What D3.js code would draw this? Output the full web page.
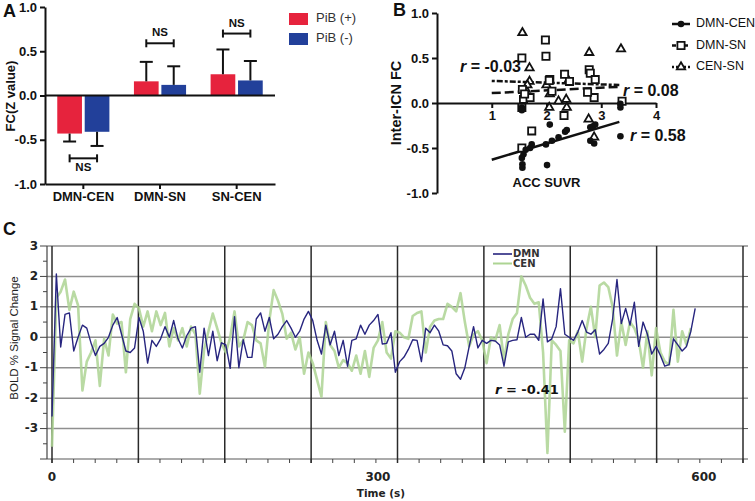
<!DOCTYPE html>
<html><head><meta charset="utf-8">
<script src="https://cdn.jsdelivr.net/npm/d3@7"></script>
<style>body{margin:0;background:#fff} svg{display:block}</style>
</head><body><svg id="c" width="755" height="501"></svg>
<script>
// ---------- Panel A data ----------
const catsA = ["DMN-CEN", "DMN-SN", "SN-CEN"];
const groupsA = ["PiB (+)", "PiB (-)"];
const pibPos = [-0.43, 0.16, 0.24];
const pibNeg = [-0.41, 0.12, 0.17];
const errPos = [0.09, 0.22, 0.28];
const errNeg = [0.16, 0.21, 0.22];
const nsLevels = [-0.71, 0.59, 0.70];
const ticksA = [-1.0, -0.5, 0.0, 0.5, 1.0];

// ---------- Panel B data ----------
const dmnCenX = [1.55,1.55,1.55,1.56,1.56,1.58,1.62,1.70,1.73,1.99,2.01,2.06,2.10,2.22,2.34,2.37,2.80,2.85,2.89,2.80,2.87,3.35,3.35,3.35];
const dmnCenY = [-0.05,-0.08,-0.61,-0.68,-0.72,-0.57,-0.52,-0.50,-0.46,-0.46,-0.69,-0.24,-0.42,-0.38,-0.32,-0.30,-0.27,-0.26,-0.24,-0.42,-0.45,-0.37,-0.01,-0.05];
const dmnSnX = [1.55,1.56,1.58,1.55,1.73,1.55,1.98,1.99,2.06,2.33,2.32,2.42,2.78,2.80,2.89,2.87,3.38,1.70,2.10,1.60,2.75,2.05];
const dmnSnY = [0.50,0.15,0.04,-0.05,-0.31,-0.50,0.70,0.52,0.26,0.32,-0.14,0.24,0.37,0.33,0.26,0.06,0.02,0.06,0.13,0.10,0.12,0.25];
const cenSnX = [1.56,1.69,1.69,1.62,2.06,2.05,2.22,2.36,2.37,2.78,2.77,2.87,3.36,1.65,2.40,2.00];
const cenSnY = [0.78,0.39,0.24,0.15,0.10,-0.05,0.02,0.04,-0.05,0.56,-0.18,-0.38,0.60,0.20,0.25,0.20];
const fitX = [1, 3.33];
const dmnCenFit = [-0.63, -0.21];
const dmnSnFit = [0.11, 0.18];
const cenSnFit = [0.245, 0.20];
const ticksBX = [1, 2, 3, 4];
const ticksBY = [-1.0, -0.5, 0.0, 0.5, 1.0];

// ---------- Panel C data ----------
const TR = 4;
const dmnBold = [-2.6,2.08,-0.32,0.75,0.8,-0.45,0.0,0.4,0.3,-0.2,-0.6,-0.3,-0.2,0.0,0.4,0.65,0.1,-0.45,-0.5,-0.35,
0.65,0.2,-0.85,-0.1,-0.3,-0.05,0.35,0.0,0.55,-0.05,-0.35,0.05,0.3,0.35,-1.15,0.3,-0.6,0.2,-0.77,-0.18,
-0.25,-1.02,0.68,-1.0,-0.08,-0.66,-0.66,0.6,0.8,0.2,0.65,-0.05,0.1,0.35,0.55,0.3,0.0,0.2,0.6,0.85,
0.55,-0.1,-0.55,0.4,-0.25,0.2,-0.6,-0.1,-0.95,-0.1,-0.05,0.4,0.1,0.4,0.55,0.75,-0.22,-0.2,0.15,-1.15,
-0.8,-0.65,-0.4,-0.08,-0.1,-0.8,0.3,0.15,0.4,0.2,-0.25,-0.28,-0.45,-1.2,-1.38,-1.0,-0.3,0.35,-0.35,-0.1,
-0.2,-0.1,-0.12,-0.25,-0.95,-0.15,-0.1,-0.08,0.65,0.0,0.1,0.1,-0.1,1.26,-0.15,-0.05,0.35,1.6,0.1,0.0,
-0.1,0.17,0.55,0.17,0.1,0.25,-0.55,-0.4,-0.2,0.6,1.9,0.45,0.95,0.4,1.15,-0.3,0.5,0.1,-0.55,-0.3,
-0.6,-0.95,-0.9,-0.05,-0.25,-0.45,-0.3,0.2,0.95];
const cenBold = [-3.6,1.3,1.5,1.9,0.9,1.5,1.05,-1.75,-0.8,-0.5,-0.1,-1.6,-0.05,-0.6,0.75,0.45,0.5,-1.15,0.6,1.1,
0.95,0.35,0.85,0.2,0.85,0.4,0.8,-0.3,0.3,-0.1,0.3,-0.3,0.35,0.1,-1.85,-0.4,0.2,0.78,0.3,-0.2,
-0.5,0.0,0.85,-0.3,-0.1,0.5,0.4,-0.1,-0.2,-0.97,0.55,1.55,1.2,0.77,-0.05,0.15,-0.4,0.0,-1.2,-0.5,
-0.85,-1.4,-1.95,0.5,-0.25,-0.45,-1.0,-0.75,-0.85,-1.1,-0.6,-1.2,-0.45,-1.3,-0.35,-0.1,0.5,-0.5,-0.7,0.2,
0.15,0.0,-0.05,0.7,0.8,0.85,-0.5,0.35,0.55,0.6,0.6,1.1,1.0,0.85,1.45,0.5,-0.3,0.1,0.2,-0.1,
-0.85,0.0,-0.1,0.4,-0.75,0.1,0.6,0.8,2.0,1.7,1.3,1.1,1.15,-0.5,-3.8,-0.1,-0.25,-0.45,-3.1,-0.1,
-0.2,0.2,-0.8,0.3,1.0,0.0,1.7,1.8,1.65,1.0,-0.6,0.5,-0.25,0.5,0.3,-0.1,-1.0,0.2,-1.25,0.3,
-0.5,-0.8,-0.9,0.9,-0.8,0.2,-0.25,0.3];
const ticksCY = [-3, -2, -1, 0, 1, 2, 3];
const ticksCX = [0, 300, 600];
const seriesC = ["DMN", "CEN"];

// ---------- drawing ----------
const svg = d3.select("#c");
const fA = "'Liberation Sans', Arial, sans-serif";
const fC = "'DejaVu Sans', Verdana, sans-serif";

// ===== Panel A =====
const gA = svg.append("g");
const yA = d3.scaleLinear().domain([-1, 1]).range([184, 7]);
const xA = d3.scaleBand().domain(catsA).range([45, 275]).paddingInner(0.32).paddingOuter(0.16);
const xSub = d3.scaleBand().domain(groupsA).range([0, xA.bandwidth()]).paddingInner(0.1);
const colA = d3.scaleOrdinal().domain(groupsA).range(["#e6233d", "#22409a"]);
const valsA = {"PiB (+)": pibPos, "PiB (-)": pibNeg};
const errsA = {"PiB (+)": errPos, "PiB (-)": errNeg};

catsA.forEach((c, i) => {
  groupsA.forEach(g => {
    const v = valsA[g][i], e = errsA[g][i];
    const x0 = xA(c) + xSub(g), w = xSub.bandwidth(), cx = x0 + w / 2;
    gA.append("rect").attr("x", x0).attr("y", yA(Math.max(0, v)))
      .attr("width", w).attr("height", Math.abs(yA(v) - yA(0))).attr("fill", colA(g));
    const vEnd = v >= 0 ? v + e : v - e;
    gA.append("line").attr("x1", cx).attr("x2", cx).attr("y1", yA(v)).attr("y2", yA(vEnd))
      .attr("stroke", "#111").attr("stroke-width", 2);
    gA.append("line").attr("x1", cx - 6.5).attr("x2", cx + 6.5).attr("y1", yA(vEnd)).attr("y2", yA(vEnd))
      .attr("stroke", "#111").attr("stroke-width", 2);
  });
  // NS bracket
  const xa = xA(c) + xSub(groupsA[0]) + xSub.bandwidth() / 2;
  const xb = xA(c) + xSub(groupsA[1]) + xSub.bandwidth() / 2;
  const yy = yA(nsLevels[i]);
  const br = gA.append("g").attr("stroke", "#111").attr("stroke-width", 2);
  br.append("line").attr("x1", xa).attr("x2", xb).attr("y1", yy).attr("y2", yy);
  br.append("line").attr("x1", xa).attr("x2", xa).attr("y1", yy - 4).attr("y2", yy + 4);
  br.append("line").attr("x1", xb).attr("x2", xb).attr("y1", yy - 4).attr("y2", yy + 4);
  gA.append("text").attr("x", (xa + xb) / 2).attr("y", nsLevels[i] < 0 ? yy + 13 : yy - 7)
    .attr("text-anchor", "middle").attr("font-family", fA).attr("font-weight", "bold")
    .attr("font-size", 11.5).attr("fill", "#111").text("NS");
});
// zero line
gA.append("line").attr("x1", 45).attr("x2", 275).attr("y1", yA(0)).attr("y2", yA(0))
  .attr("stroke", "#111").attr("stroke-width", 2);
// axes
const axA = gA.append("g").attr("transform", "translate(45,0)")
  .call(d3.axisLeft(yA).tickValues(ticksA).tickFormat(d => d.toFixed(1)).tickSize(5).tickSizeOuter(0));
const axAx = gA.append("g").attr("transform", "translate(0,184)")
  .call(d3.axisBottom(xA).tickSize(5).tickSizeOuter(0));
[axA, axAx].forEach(a => {
  a.selectAll("path,line").attr("stroke", "#111").attr("stroke-width", 2);
  a.selectAll("text").attr("font-family", fA).attr("font-weight", "bold").attr("font-size", 13).attr("fill", "#111");
});
gA.append("text").attr("transform", "translate(12,96) rotate(-90)").attr("text-anchor", "middle")
  .attr("dominant-baseline", "middle").attr("font-family", fA).attr("font-weight", "bold")
  .attr("font-size", 13).attr("fill", "#111").text("FC(Z value)");
// legend
groupsA.forEach((g, i) => {
  gA.append("rect").attr("x", 289).attr("y", 13 + i * 20).attr("width", 19).attr("height", 12).attr("fill", colA(g));
  gA.append("text").attr("x", 316).attr("y", 19 + i * 20).attr("dominant-baseline", "middle")
    .attr("font-family", fA).attr("font-size", 13).attr("fill", "#333").text(g);
});
gA.append("text").attr("x", 3).attr("y", 17).attr("font-family", fA).attr("font-weight", "bold")
  .attr("font-size", 18).attr("fill", "#111").text("A");

// ===== Panel B =====
const gB = svg.append("g");
const xB = d3.scaleLinear().domain([0, 4]).range([437, 656]);
const yB = d3.scaleLinear().domain([-1, 1]).range([193, 13]);
const axBy = gB.append("g").attr("transform", "translate(437,0)")
  .call(d3.axisLeft(yB).tickValues(ticksBY).tickFormat(d => d.toFixed(1)).tickSize(5).tickSizeOuter(0));
const axBx = gB.append("g").attr("transform", `translate(0,${yB(0)})`)
  .call(d3.axisBottom(xB).tickValues(ticksBX).tickFormat(d3.format("d")).tickSize(5).tickSizeOuter(0));
[axBy, axBx].forEach(a => {
  a.selectAll("path,line").attr("stroke", "#111").attr("stroke-width", 2);
  a.selectAll("text").attr("font-family", fA).attr("font-weight", "bold").attr("font-size", 13).attr("fill", "#111");
});
gB.append("text").attr("transform", "translate(397,103) rotate(-90)").attr("text-anchor", "middle")
  .attr("dominant-baseline", "middle").attr("font-family", fA).attr("font-weight", "bold")
  .attr("font-size", 14.5).attr("fill", "#111").text("Inter-ICN FC");
gB.append("text").attr("x", xB(2)).attr("y", 187).attr("text-anchor", "middle").attr("font-family", fA)
  .attr("font-weight", "bold").attr("font-size", 13).attr("fill", "#111").text("ACC SUVR");

const lineB = d3.line().x(d => xB(d[0])).y(d => yB(d[1]));
const fits = [
  {v: dmnCenFit, dash: null},
  {v: dmnSnFit, dash: "9,4"},
  {v: cenSnFit, dash: "3,2,6,2"}
];
fits.forEach(f => {
  gB.append("path").attr("d", lineB(fitX.map((x, i) => [x, f.v[i]]))).attr("fill", "none")
    .attr("stroke", "#111").attr("stroke-width", 2.5).attr("stroke-dasharray", f.dash);
});
const symSq = d3.symbol().type(d3.symbolSquare).size(52);
const symTri = d3.symbol().type(d3.symbolTriangle).size(30);
cenSnX.forEach((x, i) => {
  gB.append("path").attr("d", symTri()).attr("transform", `translate(${xB(x)},${yB(cenSnY[i])})`)
    .attr("fill", "#fff").attr("stroke", "#111").attr("stroke-width", 1.8);
});
dmnSnX.forEach((x, i) => {
  gB.append("path").attr("d", symSq()).attr("transform", `translate(${xB(x)},${yB(dmnSnY[i])})`)
    .attr("fill", "#fff").attr("stroke", "#111").attr("stroke-width", 1.8);
});
dmnCenX.forEach((x, i) => {
  gB.append("circle").attr("cx", xB(x)).attr("cy", yB(dmnCenY[i])).attr("r", 3.3).attr("fill", "#111");
});
// r labels
function rLabel(g, x, y, txt, size, fam) {
  const t = g.append("text").attr("x", x).attr("y", y).attr("dominant-baseline", "middle")
    .attr("font-family", fam).attr("font-weight", "bold").attr("font-size", size).attr("fill", "#111");
  t.append("tspan").attr("font-style", "italic").text("r");
  t.append("tspan").text(txt);
}
rLabel(gB, 460, 68, " = -0.03", 16, fA);
rLabel(gB, 623, 92, " = 0.08", 16, fA);
rLabel(gB, 630, 137, " = 0.58", 16, fA);
// legend B
const legB = [
  {name: "DMN-CEN", dash: null, sym: "c"},
  {name: "DMN-SN", dash: "4,2", sym: "s"},
  {name: "CEN-SN", dash: "2,2", sym: "t"}
];
legB.forEach((l, i) => {
  const y = 24 + i * 21.5;
  gB.append("line").attr("x1", 672).attr("x2", 690).attr("y1", y).attr("y2", y)
    .attr("stroke", "#111").attr("stroke-width", 2.5).attr("stroke-dasharray", l.dash);
  if (l.sym === "c") gB.append("circle").attr("cx", 681).attr("cy", y).attr("r", 3.3).attr("fill", "#111");
  if (l.sym === "s") gB.append("path").attr("d", symSq()).attr("transform", `translate(681,${y})`)
    .attr("fill", "#fff").attr("stroke", "#111").attr("stroke-width", 1.8);
  if (l.sym === "t") gB.append("path").attr("d", symTri()).attr("transform", `translate(681,${y})`)
    .attr("fill", "#fff").attr("stroke", "#111").attr("stroke-width", 1.8);
  gB.append("text").attr("x", 696).attr("y", y).attr("dominant-baseline", "middle")
    .attr("font-family", fA).attr("font-size", 12.5).attr("fill", "#111").text(l.name);
});
gB.append("text").attr("x", 393).attr("y", 16).attr("font-family", fA).attr("font-weight", "bold")
  .attr("font-size", 18).attr("fill", "#111").text("B");

// ===== Panel C =====
const gC = svg.append("g");
const xC = d3.scaleLinear().domain([0, 636]).range([52, 743]);
const yC = d3.scaleLinear().domain([-4, 3]).range([459, 246]);
const gridStep = 79.5;
// horizontal grid
d3.range(-4, 4).forEach(v => {
  gC.append("line").attr("x1", 47).attr("x2", 743).attr("y1", yC(v)).attr("y2", yC(v))
    .attr("stroke", "#8f8f8f").attr("stroke-width", 1.5);
  gC.append("line").attr("x1", 743).attr("x2", 748).attr("y1", yC(v)).attr("y2", yC(v))
    .attr("stroke", "#555").attr("stroke-width", 1);
});
// minor x ticks
d3.range(0, 636.1, gridStep / 4).forEach(t => {
  gC.append("line").attr("x1", xC(t)).attr("x2", xC(t)).attr("y1", 459).attr("y2", 463)
    .attr("stroke", "#444").attr("stroke-width", 1);
});
// vertical lines
d3.range(0, 9).forEach(k => {
  gC.append("line").attr("x1", xC(k * gridStep)).attr("x2", xC(k * gridStep)).attr("y1", 246).attr("y2", 463)
    .attr("stroke", "#2a2a2a").attr("stroke-width", 1.5);
});
// left axis
gC.append("line").attr("x1", 47).attr("x2", 47).attr("y1", 246).attr("y2", 459).attr("stroke", "#444").attr("stroke-width", 1.2);
d3.range(-4, 3.01, 0.5).forEach(v => {
  const major = Number.isInteger(v);
  gC.append("line").attr("x1", major ? 40 : 43).attr("x2", 47).attr("y1", yC(v)).attr("y2", yC(v))
    .attr("stroke", "#444").attr("stroke-width", 1);
});
ticksCY.forEach(v => {
  gC.append("text").attr("x", 38).attr("y", yC(v)).attr("text-anchor", "end").attr("dominant-baseline", "middle")
    .attr("font-family", fC).attr("font-weight", "bold").attr("font-size", 12).attr("fill", "#222").text(v);
});
ticksCX.forEach(t => {
  gC.append("text").attr("x", xC(t)).attr("y", 481).attr("text-anchor", "middle")
    .attr("font-family", fC).attr("font-weight", "bold").attr("font-size", 12).attr("fill", "#222").text(t);
});
gC.append("text").attr("x", 381).attr("y", 497).attr("text-anchor", "middle").attr("font-family", fC)
  .attr("font-weight", "bold").attr("font-size", 10.5).attr("fill", "#222").text("Time (s)");
gC.append("text").attr("transform", "translate(15,338) rotate(-90)").attr("text-anchor", "middle")
  .attr("dominant-baseline", "middle").attr("font-family", fA).attr("font-size", 11.5).attr("fill", "#222")
  .text("BOLD % Signal Change");

const lineC = d3.line().x((d, i) => xC(i * TR)).y(d => yC(d));
const colC = d3.scaleOrdinal().domain(seriesC).range(["#27257f", "#add493"]);
gC.append("path").attr("d", lineC(cenBold)).attr("fill", "none").attr("stroke", colC("CEN"))
  .attr("stroke-width", 2.6).attr("stroke-linejoin", "round").attr("opacity", 0.85);
gC.append("path").attr("d", lineC(dmnBold)).attr("fill", "none").attr("stroke", colC("DMN"))
  .attr("stroke-width", 1.4).attr("stroke-linejoin", "round");
// legend C
seriesC.forEach((s, i) => {
  const y = 254 + i * 9.5;
  gC.append("line").attr("x1", 493).attr("x2", 512).attr("y1", y).attr("y2", y)
    .attr("stroke", colC(s)).attr("stroke-width", s === "CEN" ? 2 : 1.6);
  gC.append("text").attr("x", 513).attr("y", y).attr("dominant-baseline", "middle").attr("font-family", fC)
    .attr("font-weight", "bold").attr("font-size", 10).attr("fill", "#333").text(s);
});
rLabel(gC, 495, 390, " =  -0.41", 13, fC);
gC.append("text").attr("x", 3).attr("y", 235).attr("font-family", fA).attr("font-weight", "bold")
  .attr("font-size", 18).attr("fill", "#111").text("C");
</script></body></html>
